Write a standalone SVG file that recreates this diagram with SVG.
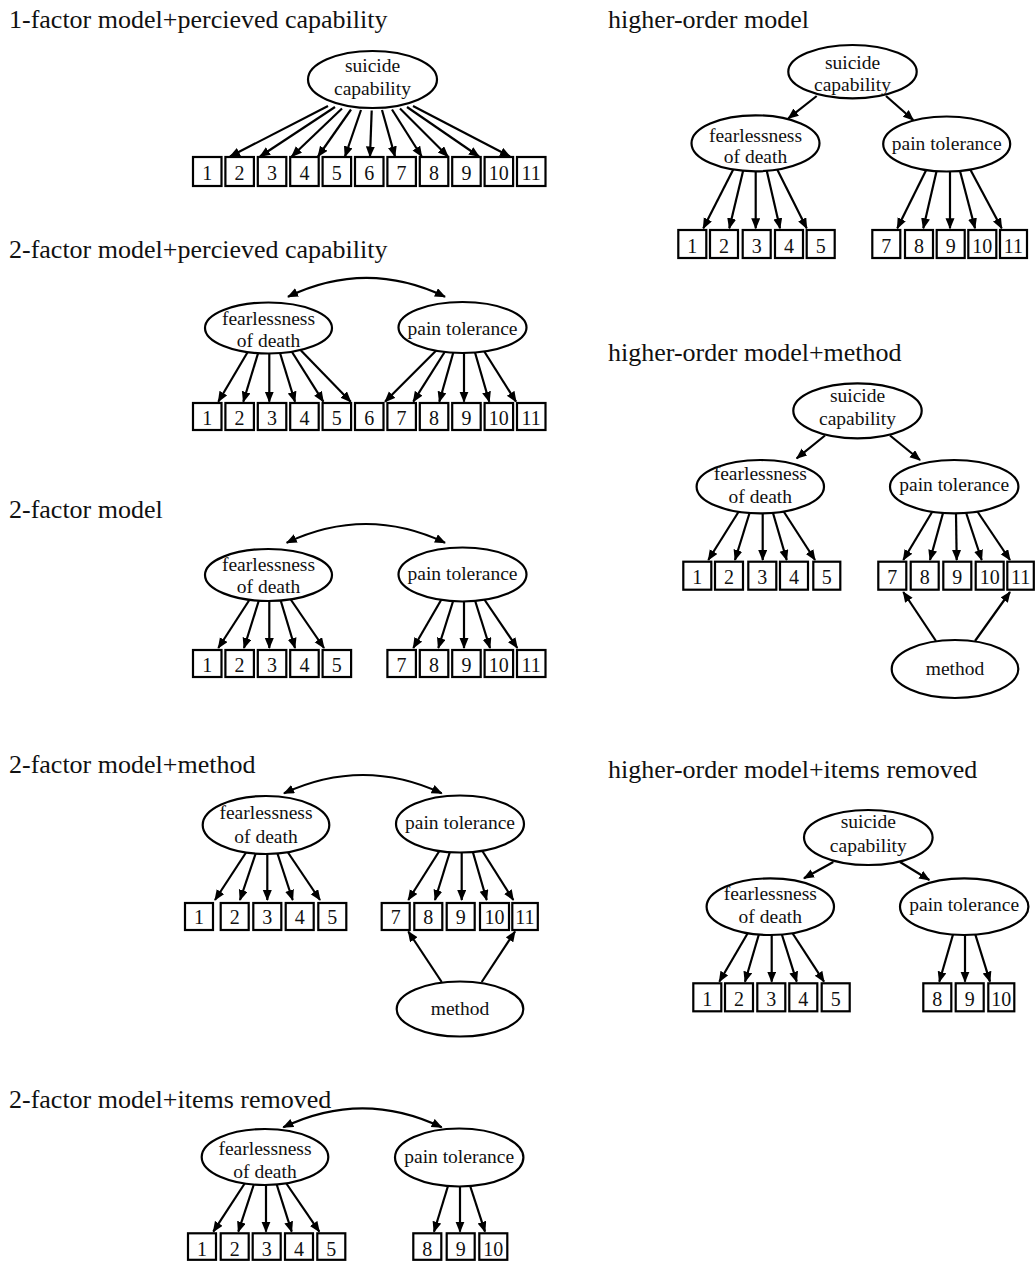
<svg xmlns="http://www.w3.org/2000/svg" width="1035" height="1261" viewBox="0 0 1035 1261">
<style>
.bg{fill:#fff}
ellipse,rect{fill:#fff;stroke:#000;stroke-width:2.2}
text{font-family:"Liberation Serif","Times New Roman",serif;fill:#111}
.ttl{font-size:26px}
.lb{font-size:19.5px;text-anchor:middle}
.dg{font-size:20px;text-anchor:middle}
#connectors line,#connectors path{stroke:#000;stroke-width:2.2;fill:none;marker-end:url(#ah)}
#connectors path.dbl{marker-start:url(#ah)}
</style>
<defs>
<marker id="ah" markerUnits="userSpaceOnUse" markerWidth="12" markerHeight="10" refX="10" refY="4.5" orient="auto-start-reverse"><path d="M0,0 L11,4.5 L0,9 z" fill="#000"/></marker>
</defs>
<rect class="bg" x="0" y="0" width="1035" height="1261" style="stroke:none"/>

<g id="titles">
<text class="ttl" x="9" y="28.3">1-factor model+percieved capability</text>
<text class="ttl" x="9" y="258">2-factor model+percieved capability</text>
<text class="ttl" x="9" y="518.3">2-factor model</text>
<text class="ttl" x="9" y="772.7">2-factor model+method</text>
<text class="ttl" x="9" y="1108">2-factor model+items removed</text>
<text class="ttl" x="608" y="28.3">higher-order model</text>
<text class="ttl" x="608" y="361">higher-order model+method</text>
<text class="ttl" x="608" y="778.3">higher-order model+items removed</text>
</g>

<g id="connectors">
<!-- panel 1 -->
<line x1="328" y1="106" x2="230" y2="156.5"/>
<line x1="335" y1="107" x2="260" y2="156.5"/>
<line x1="342" y1="108.5" x2="291.7" y2="156.5"/>
<line x1="351" y1="109.5" x2="318" y2="156.5"/>
<line x1="361" y1="110" x2="345" y2="156.5"/>
<line x1="371.7" y1="110.5" x2="370" y2="156.5"/>
<line x1="382" y1="110" x2="395" y2="156.5"/>
<line x1="392" y1="109.5" x2="421.7" y2="156.5"/>
<line x1="400" y1="108.5" x2="448" y2="156.5"/>
<line x1="407" y1="107" x2="479" y2="156.5"/>
<line x1="413" y1="106" x2="510" y2="156.5"/>
<!-- panel 2 -->
<path class="dbl" d="M288,296.7 Q366.5,259 445,296.7"/>
<line x1="248.3" y1="351" x2="218.3" y2="401.7"/>
<line x1="258.3" y1="352.5" x2="243.3" y2="401.7"/>
<line x1="269.3" y1="353.5" x2="269.3" y2="401.7"/>
<line x1="280" y1="353" x2="295" y2="401.7"/>
<line x1="291.7" y1="351.5" x2="323.3" y2="401.7"/>
<line x1="300" y1="349.5" x2="350.7" y2="401.7"/>
<line x1="436.7" y1="350" x2="385" y2="401.7"/>
<line x1="445" y1="351.5" x2="413.3" y2="401.7"/>
<line x1="453.3" y1="352.5" x2="439.3" y2="401.7"/>
<line x1="464" y1="353" x2="464" y2="401.7"/>
<line x1="475" y1="352.5" x2="489.3" y2="401.7"/>
<line x1="484" y1="351" x2="516" y2="401.7"/>
<!-- panel 3 -->
<path class="dbl" d="M286.7,542.7 Q366,505.3 445,542.7"/>
<line x1="250" y1="599" x2="218.3" y2="648"/>
<line x1="259" y1="600" x2="244" y2="648"/>
<line x1="269.3" y1="601" x2="269.3" y2="648"/>
<line x1="280.7" y1="600.5" x2="295" y2="648"/>
<line x1="290.7" y1="599.5" x2="324" y2="648"/>
<line x1="441.7" y1="599" x2="413.3" y2="648"/>
<line x1="453.3" y1="600.5" x2="438.3" y2="648"/>
<line x1="464" y1="601.5" x2="464" y2="648"/>
<line x1="475" y1="600.5" x2="490" y2="648"/>
<line x1="484" y1="599" x2="517.3" y2="648"/>
<!-- panel 4 -->
<path class="dbl" d="M284,793.3 Q363,756.7 441.7,793.3"/>
<line x1="246.7" y1="851.5" x2="215" y2="900"/>
<line x1="256" y1="852.5" x2="240" y2="900"/>
<line x1="267.3" y1="853.5" x2="267.3" y2="900"/>
<line x1="277.3" y1="853" x2="292.7" y2="900"/>
<line x1="287.3" y1="851.5" x2="320" y2="900"/>
<line x1="440" y1="850" x2="408.3" y2="900"/>
<line x1="450" y1="851.5" x2="435" y2="900"/>
<line x1="461.7" y1="852.5" x2="461.7" y2="900"/>
<line x1="472.7" y1="851.5" x2="486.7" y2="900"/>
<line x1="481.7" y1="850" x2="513.3" y2="900"/>
<line x1="441.7" y1="982" x2="408.3" y2="931.5"/>
<line x1="481.7" y1="982" x2="515" y2="931.5"/>
<!-- panel 5 -->
<path class="dbl" d="M283.3,1127.3 Q362.5,1089.3 441.7,1127.3"/>
<line x1="245" y1="1183" x2="213.3" y2="1231.7"/>
<line x1="254" y1="1184" x2="238.3" y2="1231.7"/>
<line x1="266" y1="1185" x2="266" y2="1231.7"/>
<line x1="276.7" y1="1184.5" x2="291.7" y2="1231.7"/>
<line x1="286" y1="1183" x2="319.3" y2="1231.7"/>
<line x1="448.3" y1="1185" x2="434" y2="1231.7"/>
<line x1="460" y1="1186.5" x2="460" y2="1231.7"/>
<line x1="470" y1="1185.5" x2="485" y2="1231.7"/>
<!-- panel 6 -->
<line x1="816.7" y1="96" x2="788.3" y2="118.3"/>
<line x1="886" y1="96" x2="913.3" y2="120"/>
<line x1="734" y1="168" x2="703.3" y2="228.3"/>
<line x1="743.3" y1="170" x2="729.3" y2="228.3"/>
<line x1="755.7" y1="171.3" x2="755.7" y2="228.3"/>
<line x1="766.7" y1="170.5" x2="780" y2="228.3"/>
<line x1="776.7" y1="168.5" x2="806.7" y2="228.3"/>
<line x1="926.7" y1="169" x2="897.3" y2="228.3"/>
<line x1="936.7" y1="170.5" x2="923.3" y2="228.3"/>
<line x1="950" y1="171.5" x2="950" y2="228.3"/>
<line x1="960" y1="171" x2="975" y2="228.3"/>
<line x1="970" y1="169" x2="1001.7" y2="228.3"/>
<!-- panel 7 -->
<line x1="825" y1="435.5" x2="796.7" y2="458.3"/>
<line x1="890" y1="435.5" x2="920" y2="460"/>
<line x1="740" y1="509.5" x2="708.3" y2="560"/>
<line x1="750" y1="511.5" x2="735" y2="560"/>
<line x1="762.7" y1="513.3" x2="762.7" y2="560"/>
<line x1="772.7" y1="512" x2="786.7" y2="560"/>
<line x1="782.7" y1="510" x2="815" y2="560"/>
<line x1="933.3" y1="510" x2="903.3" y2="560"/>
<line x1="943.3" y1="512" x2="930" y2="560"/>
<line x1="956" y1="513.3" x2="956.7" y2="560"/>
<line x1="966" y1="512.5" x2="981.7" y2="560"/>
<line x1="976.7" y1="510.5" x2="1010" y2="560"/>
<line x1="936" y1="641" x2="903.3" y2="592"/>
<line x1="975" y1="641" x2="1010" y2="592"/>
<!-- panel 8 -->
<line x1="833.3" y1="862" x2="804" y2="878.3"/>
<line x1="900" y1="862" x2="929.3" y2="880"/>
<line x1="749.3" y1="930.5" x2="719.3" y2="981.7"/>
<line x1="759.3" y1="933" x2="745" y2="981.7"/>
<line x1="771.7" y1="935" x2="771.7" y2="981.7"/>
<line x1="781.7" y1="934" x2="796.7" y2="981.7"/>
<line x1="791.7" y1="932" x2="824" y2="981.7"/>
<line x1="953.3" y1="933.5" x2="939.3" y2="981.7"/>
<line x1="965" y1="935" x2="965" y2="981.7"/>
<line x1="975" y1="933.5" x2="990" y2="981.7"/>
</g>

<!-- ===== Panel 1 ===== -->
<g id="p1-sc"><ellipse cx="372.5" cy="79.5" rx="64.5" ry="28.5"/><text class="lb" x="372.5" y="72">suicide</text><text class="lb" x="372.5" y="94.5">capability</text></g>
<g id="p1-i1"><rect x="193" y="157" width="28.5" height="29"/><text class="dg" x="207.2" y="179.5">1</text></g>
<g id="p1-i2"><rect x="225.4" y="157" width="28.5" height="29"/><text class="dg" x="239.6" y="179.5">2</text></g>
<g id="p1-i3"><rect x="257.8" y="157" width="28.5" height="29"/><text class="dg" x="272" y="179.5">3</text></g>
<g id="p1-i4"><rect x="290.2" y="157" width="28.5" height="29"/><text class="dg" x="304.4" y="179.5">4</text></g>
<g id="p1-i5"><rect x="322.6" y="157" width="28.5" height="29"/><text class="dg" x="336.8" y="179.5">5</text></g>
<g id="p1-i6"><rect x="355" y="157" width="28.5" height="29"/><text class="dg" x="369.2" y="179.5">6</text></g>
<g id="p1-i7"><rect x="387.4" y="157" width="28.5" height="29"/><text class="dg" x="401.6" y="179.5">7</text></g>
<g id="p1-i8"><rect x="419.8" y="157" width="28.5" height="29"/><text class="dg" x="434" y="179.5">8</text></g>
<g id="p1-i9"><rect x="452.2" y="157" width="28.5" height="29"/><text class="dg" x="466.4" y="179.5">9</text></g>
<g id="p1-i10"><rect x="484.6" y="157" width="28.5" height="29"/><text class="dg" x="498.8" y="179.5">10</text></g>
<g id="p1-i11"><rect x="517" y="157" width="28.5" height="29"/><text class="dg" x="531.2" y="179.5">11</text></g>

<!-- ===== Panel 2 ===== -->
<g id="p2-fd"><ellipse cx="268.5" cy="328" rx="63.5" ry="25.5"/><text class="lb" x="268.5" y="325">fearlessness</text><text class="lb" x="268.5" y="346.5">of death</text></g>
<g id="p2-pt"><ellipse cx="462.5" cy="327.5" rx="64" ry="25.5"/><text class="lb" x="462.5" y="335">pain tolerance</text></g>
<g id="p2-i1"><rect x="193" y="403" width="28.5" height="27"/><text class="dg" x="207.2" y="425">1</text></g>
<g id="p2-i2"><rect x="225.4" y="403" width="28.5" height="27"/><text class="dg" x="239.6" y="425">2</text></g>
<g id="p2-i3"><rect x="257.8" y="403" width="28.5" height="27"/><text class="dg" x="272" y="425">3</text></g>
<g id="p2-i4"><rect x="290.2" y="403" width="28.5" height="27"/><text class="dg" x="304.4" y="425">4</text></g>
<g id="p2-i5"><rect x="322.6" y="403" width="28.5" height="27"/><text class="dg" x="336.8" y="425">5</text></g>
<g id="p2-i6"><rect x="355" y="403" width="28.5" height="27"/><text class="dg" x="369.2" y="425">6</text></g>
<g id="p2-i7"><rect x="387.4" y="403" width="28.5" height="27"/><text class="dg" x="401.6" y="425">7</text></g>
<g id="p2-i8"><rect x="419.8" y="403" width="28.5" height="27"/><text class="dg" x="434" y="425">8</text></g>
<g id="p2-i9"><rect x="452.2" y="403" width="28.5" height="27"/><text class="dg" x="466.4" y="425">9</text></g>
<g id="p2-i10"><rect x="484.6" y="403" width="28.5" height="27"/><text class="dg" x="498.8" y="425">10</text></g>
<g id="p2-i11"><rect x="517" y="403" width="28.5" height="27"/><text class="dg" x="531.2" y="425">11</text></g>

<!-- ===== Panel 3 ===== -->
<g id="p3-fd"><ellipse cx="268.5" cy="575" rx="63.5" ry="26"/><text class="lb" x="268.5" y="571">fearlessness</text><text class="lb" x="268.5" y="593">of death</text></g>
<g id="p3-pt"><ellipse cx="462.5" cy="574.5" rx="64" ry="27"/><text class="lb" x="462.5" y="580">pain tolerance</text></g>
<g id="p3-i1"><rect x="193" y="650" width="28.5" height="27"/><text class="dg" x="207.2" y="672">1</text></g>
<g id="p3-i2"><rect x="225.4" y="650" width="28.5" height="27"/><text class="dg" x="239.6" y="672">2</text></g>
<g id="p3-i3"><rect x="257.8" y="650" width="28.5" height="27"/><text class="dg" x="272" y="672">3</text></g>
<g id="p3-i4"><rect x="290.2" y="650" width="28.5" height="27"/><text class="dg" x="304.4" y="672">4</text></g>
<g id="p3-i5"><rect x="322.6" y="650" width="28.5" height="27"/><text class="dg" x="336.8" y="672">5</text></g>
<g id="p3-i7"><rect x="387.4" y="650" width="28.5" height="27"/><text class="dg" x="401.6" y="672">7</text></g>
<g id="p3-i8"><rect x="419.8" y="650" width="28.5" height="27"/><text class="dg" x="434" y="672">8</text></g>
<g id="p3-i9"><rect x="452.2" y="650" width="28.5" height="27"/><text class="dg" x="466.4" y="672">9</text></g>
<g id="p3-i10"><rect x="484.6" y="650" width="28.5" height="27"/><text class="dg" x="498.8" y="672">10</text></g>
<g id="p3-i11"><rect x="517" y="650" width="28.5" height="27"/><text class="dg" x="531.2" y="672">11</text></g>

<!-- ===== Panel 4 ===== -->
<g id="p4-fd"><ellipse cx="266" cy="825" rx="63.3" ry="29"/><text class="lb" x="266" y="819.3">fearlessness</text><text class="lb" x="266" y="842.7">of death</text></g>
<g id="p4-pt"><ellipse cx="460" cy="824" rx="64" ry="28.5"/><text class="lb" x="460" y="829">pain tolerance</text></g>
<g id="p4-m"><ellipse cx="460" cy="1009" rx="63.3" ry="27.5"/><text class="lb" x="460" y="1015">method</text></g>
<g id="p4-i1"><rect x="185" y="903" width="28" height="27"/><text class="dg" x="199" y="924">1</text></g>
<g id="p4-i2"><rect x="220.7" y="903" width="28" height="27"/><text class="dg" x="234.7" y="924">2</text></g>
<g id="p4-i3"><rect x="253.3" y="903" width="28" height="27"/><text class="dg" x="267.3" y="924">3</text></g>
<g id="p4-i4"><rect x="285.7" y="903" width="28" height="27"/><text class="dg" x="299.7" y="924">4</text></g>
<g id="p4-i5"><rect x="318.3" y="903" width="28" height="27"/><text class="dg" x="332.3" y="924">5</text></g>
<g id="p4-i7"><rect x="381.7" y="903" width="28" height="27"/><text class="dg" x="395.7" y="924">7</text></g>
<g id="p4-i8"><rect x="414.3" y="903" width="28" height="27"/><text class="dg" x="428.3" y="924">8</text></g>
<g id="p4-i9"><rect x="446.7" y="903" width="28" height="27"/><text class="dg" x="460.7" y="924">9</text></g>
<g id="p4-i10"><rect x="480" y="903" width="29" height="27"/><text class="dg" x="494.5" y="924">10</text></g>
<g id="p4-i11"><rect x="512.3" y="903" width="25.5" height="27"/><text class="dg" x="525" y="924">11</text></g>

<!-- ===== Panel 5 ===== -->
<g id="p5-fd"><ellipse cx="265" cy="1157" rx="63.3" ry="28"/><text class="lb" x="265" y="1155">fearlessness</text><text class="lb" x="265" y="1178.3">of death</text></g>
<g id="p5-pt"><ellipse cx="459.2" cy="1157.5" rx="64.2" ry="29"/><text class="lb" x="459.2" y="1163.3">pain tolerance</text></g>
<g id="p5-i1"><rect x="188" y="1233.3" width="28" height="26.5"/><text class="dg" x="202" y="1255.5">1</text></g>
<g id="p5-i2"><rect x="220.7" y="1233.3" width="28" height="26.5"/><text class="dg" x="234.7" y="1255.5">2</text></g>
<g id="p5-i3"><rect x="252.7" y="1233.3" width="28" height="26.5"/><text class="dg" x="266.7" y="1255.5">3</text></g>
<g id="p5-i4"><rect x="285" y="1233.3" width="28" height="26.5"/><text class="dg" x="299" y="1255.5">4</text></g>
<g id="p5-i5"><rect x="317.3" y="1233.3" width="28" height="26.5"/><text class="dg" x="331.3" y="1255.5">5</text></g>
<g id="p5-i8"><rect x="413.3" y="1233.3" width="28" height="26.5"/><text class="dg" x="427.3" y="1255.5">8</text></g>
<g id="p5-i9"><rect x="446.7" y="1233.3" width="28" height="26.5"/><text class="dg" x="460.7" y="1255.5">9</text></g>
<g id="p5-i10"><rect x="479.3" y="1233.3" width="28" height="26.5"/><text class="dg" x="493.3" y="1255.5">10</text></g>

<!-- ===== Panel 6 ===== -->
<g id="p6-sc"><ellipse cx="852.5" cy="71.7" rx="64.2" ry="26.7"/><text class="lb" x="852.5" y="69.3">suicide</text><text class="lb" x="852.5" y="90.5">capability</text></g>
<g id="p6-fd"><ellipse cx="755.5" cy="143.3" rx="64" ry="28"/><text class="lb" x="755.5" y="141.7">fearlessness</text><text class="lb" x="755.5" y="163.3">of death</text></g>
<g id="p6-pt"><ellipse cx="946.7" cy="144" rx="63.5" ry="27.5"/><text class="lb" x="946.7" y="150">pain tolerance</text></g>
<g id="p6-i1"><rect x="678.3" y="230" width="28" height="28"/><text class="dg" x="692.3" y="252.5">1</text></g>
<g id="p6-i2"><rect x="710" y="230" width="28" height="28"/><text class="dg" x="724" y="252.5">2</text></g>
<g id="p6-i3"><rect x="742.7" y="230" width="28" height="28"/><text class="dg" x="756.7" y="252.5">3</text></g>
<g id="p6-i4"><rect x="775" y="230" width="28" height="28"/><text class="dg" x="789" y="252.5">4</text></g>
<g id="p6-i5"><rect x="806.7" y="230" width="28" height="28"/><text class="dg" x="820.7" y="252.5">5</text></g>
<g id="p6-i7"><rect x="872.3" y="230" width="28" height="28"/><text class="dg" x="886.3" y="252.5">7</text></g>
<g id="p6-i8"><rect x="905" y="230" width="28" height="28"/><text class="dg" x="919" y="252.5">8</text></g>
<g id="p6-i9"><rect x="936.7" y="230" width="28" height="28"/><text class="dg" x="950.7" y="252.5">9</text></g>
<g id="p6-i10"><rect x="968.3" y="230" width="28" height="28"/><text class="dg" x="982.3" y="252.5">10</text></g>
<g id="p6-i11"><rect x="1000" y="230" width="27" height="28"/><text class="dg" x="1013.5" y="252.5">11</text></g>

<!-- ===== Panel 7 ===== -->
<g id="p7-sc"><ellipse cx="857.5" cy="410.8" rx="64.2" ry="27.5"/><text class="lb" x="857.5" y="402">suicide</text><text class="lb" x="857.5" y="425">capability</text></g>
<g id="p7-fd"><ellipse cx="760.3" cy="486.7" rx="63.7" ry="26.7"/><text class="lb" x="760.3" y="480">fearlessness</text><text class="lb" x="760.3" y="503.3">of death</text></g>
<g id="p7-pt"><ellipse cx="954.2" cy="486.7" rx="64.2" ry="26.7"/><text class="lb" x="954.2" y="491">pain tolerance</text></g>
<g id="p7-m"><ellipse cx="955" cy="669" rx="63.3" ry="29"/><text class="lb" x="955" y="675">method</text></g>
<g id="p7-i1"><rect x="683.3" y="561.7" width="28" height="28"/><text class="dg" x="697.3" y="584">1</text></g>
<g id="p7-i2"><rect x="715" y="561.7" width="28" height="28"/><text class="dg" x="729" y="584">2</text></g>
<g id="p7-i3"><rect x="748.3" y="561.7" width="28" height="28"/><text class="dg" x="762.3" y="584">3</text></g>
<g id="p7-i4"><rect x="780" y="561.7" width="28" height="28"/><text class="dg" x="794" y="584">4</text></g>
<g id="p7-i5"><rect x="813.3" y="561.7" width="27" height="28"/><text class="dg" x="826.8" y="584">5</text></g>
<g id="p7-i7"><rect x="878.3" y="561.7" width="28" height="28"/><text class="dg" x="892.3" y="584">7</text></g>
<g id="p7-i8"><rect x="910.7" y="561.7" width="28" height="28"/><text class="dg" x="924.7" y="584">8</text></g>
<g id="p7-i9"><rect x="943.3" y="561.7" width="28" height="28"/><text class="dg" x="957.3" y="584">9</text></g>
<g id="p7-i10"><rect x="975.7" y="561.7" width="28" height="28"/><text class="dg" x="989.7" y="584">10</text></g>
<g id="p7-i11"><rect x="1007.3" y="561.7" width="26.5" height="28"/><text class="dg" x="1020.6" y="584">11</text></g>

<!-- ===== Panel 8 ===== -->
<g id="p8-sc"><ellipse cx="868.3" cy="837.5" rx="64.3" ry="27.5"/><text class="lb" x="868.3" y="828.3">suicide</text><text class="lb" x="868.3" y="851.7">capability</text></g>
<g id="p8-fd"><ellipse cx="770.3" cy="906.7" rx="63.7" ry="28.3"/><text class="lb" x="770.3" y="900">fearlessness</text><text class="lb" x="770.3" y="923.3">of death</text></g>
<g id="p8-pt"><ellipse cx="964.2" cy="906.7" rx="64.2" ry="28.3"/><text class="lb" x="964.2" y="911">pain tolerance</text></g>
<g id="p8-i1"><rect x="693.3" y="983.3" width="28" height="28"/><text class="dg" x="707.3" y="1005.7">1</text></g>
<g id="p8-i2"><rect x="725" y="983.3" width="28" height="28"/><text class="dg" x="739" y="1005.7">2</text></g>
<g id="p8-i3"><rect x="757.3" y="983.3" width="28" height="28"/><text class="dg" x="771.3" y="1005.7">3</text></g>
<g id="p8-i4"><rect x="789.3" y="983.3" width="28" height="28"/><text class="dg" x="803.3" y="1005.7">4</text></g>
<g id="p8-i5"><rect x="821.7" y="983.3" width="28" height="28"/><text class="dg" x="835.7" y="1005.7">5</text></g>
<g id="p8-i8"><rect x="923.3" y="983.3" width="28" height="28"/><text class="dg" x="937.3" y="1005.7">8</text></g>
<g id="p8-i9"><rect x="955.7" y="983.3" width="28" height="28"/><text class="dg" x="969.7" y="1005.7">9</text></g>
<g id="p8-i10"><rect x="988.3" y="983.3" width="26" height="28"/><text class="dg" x="1001.3" y="1005.7">10</text></g>
</svg>
